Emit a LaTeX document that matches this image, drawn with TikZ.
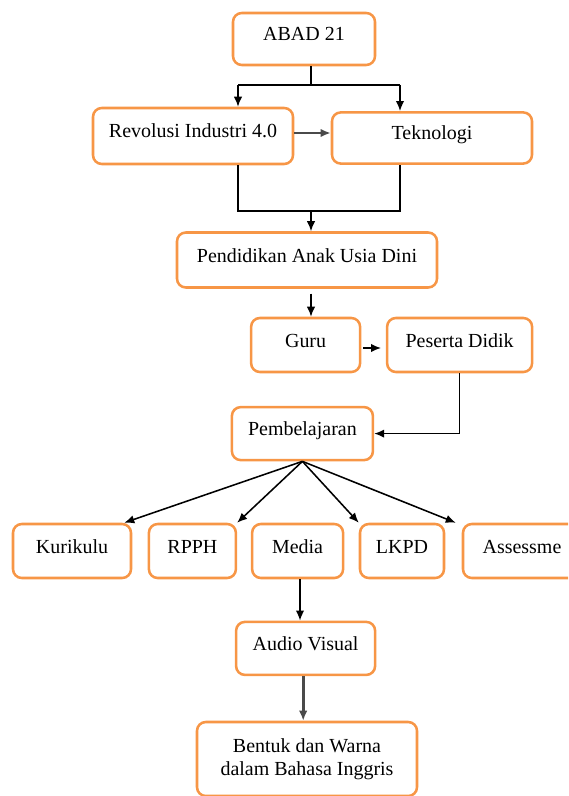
\documentclass[tikz,border=0pt]{standalone}
\usepackage{fontspec}
\setmainfont{Liberation Serif}
\usetikzlibrary{arrows.meta}
\definecolor{oranye}{HTML}{F79646}
\definecolor{abuGelap}{HTML}{4A4A4A}

\begin{document}
\begin{tikzpicture}[every node/.style={font=\fontsize{14.2}{16.5}\selectfont},
  kotak/.style={draw=oranye,line width=1.8pt,rounded corners=0.22cm,fill=white,inner sep=0pt,align=center,text height=0.35cm,text depth=0.25cm},
  panah/.style={-{Latex[length=2.5mm,width=2.1mm]},line width=1.1pt},
  panahAbu/.style={-{Latex[length=2.5mm,width=2.1mm]},line width=1.9pt,draw=abuGelap}]
\useasboundingbox (0,0) rectangle (14.2,-19.9);
\clip (0,0) rectangle (14.2,-19.9);
% kotak-kotak
\node[kotak,minimum width=3.55cm,minimum height=1.3cm] (abad) at (7.6,-0.975) {ABAD 21};
\node[kotak,minimum width=5.0cm,minimum height=1.4cm] (revolusi) at (4.825,-3.4) {Revolusi Industri 4.0};
\node[kotak,minimum width=5.0cm,minimum height=1.28cm] (teknologi) at (10.8,-3.45) {Teknologi};
\node[kotak,minimum width=6.5cm,minimum height=1.375cm] (paud) at (7.675,-6.5) {Pendidikan Anak Usia Dini};
\node[kotak,minimum width=2.725cm,minimum height=1.35cm] (guru) at (7.64,-8.625) {Guru};
\node[kotak,minimum width=3.625cm,minimum height=1.35cm] (peserta) at (11.49,-8.625) {Peserta Didik};
\node[kotak,minimum width=3.525cm,minimum height=1.325cm] (pembelajaran) at (7.56,-10.84) {Pembelajaran};
\node[kotak,minimum width=2.95cm,minimum height=1.35cm] (kurikulum) at (1.8,-13.775) {Kurikulu};
\node[kotak,minimum width=2.175cm,minimum height=1.35cm] (rpph) at (4.81,-13.775) {RPPH};
\node[kotak,minimum width=2.275cm,minimum height=1.35cm] (media) at (7.44,-13.775) {Media};
\node[kotak,minimum width=2.1cm,minimum height=1.35cm] (lkpd) at (10.05,-13.775) {LKPD};
\node[kotak,minimum width=2.95cm,minimum height=1.35cm] (asesmen) at (13.05,-13.775) {Assessme};
\node[kotak,minimum width=3.475cm,minimum height=1.325cm] (audio) at (7.64,-16.21) {Audio Visual};
\node[kotak,minimum width=5.5cm,minimum height=1.85cm,text height=,text depth=] (bentuk) at (7.675,-18.975) {Bentuk dan Warna\\dalam Bahasa Inggris};
% titik cabang
\coordinate (j1) at (7.775,-2.125);
\coordinate (ja) at (5.95,-2.125);
\coordinate (jb) at (10.0,-2.125);
\coordinate (jc) at (5.95,-5.275);
\coordinate (jd) at (10.0,-5.275);
\coordinate (je) at (7.775,-5.275);
% garis
\draw[line width=1.1pt] (abad.south -| j1) -- (j1);
\draw[line width=1.1pt] (ja) -- (jb);
\draw[panah] (ja) -- (ja |- revolusi.north);
\draw[panah] (jb) -- (jb |- teknologi.north);
\draw[panahAbu] (revolusi.east |- 0,-3.325) -- (teknologi.west |- 0,-3.325);
\draw[line width=1.1pt] (revolusi.south -| jc) -- (jc) -- (jd) -- (teknologi.south -| jd);
\draw[panah] (je) -- (je |- paud.north);
\draw[panah,shorten <=0.12cm] (paud.south -| je) -- (je |- guru.north);
\draw[panah,shorten <=0.05cm,shorten >=0.12cm] (guru.east |- 0,-8.7) -- (peserta.west |- 0,-8.7);
\draw[panah] (peserta.south) |- (pembelajaran.east);
\draw[panah] (pembelajaran.south) -- ([xshift=-0.2cm]kurikulum.north east);
\draw[panah] (pembelajaran.south) -- (rpph.north east);
\draw[panah] (pembelajaran.south) -- (lkpd.north west);
\draw[panah] (pembelajaran.south) -- ([xshift=-0.15cm]asesmen.north west);
\draw[panah] (media.south -| 7.5,0) -- (audio.north -| 7.5,0);
\draw[panahAbu] (audio.south -| 7.58,0) -- (bentuk.north -| 7.58,0);
\end{tikzpicture}
\end{document}
